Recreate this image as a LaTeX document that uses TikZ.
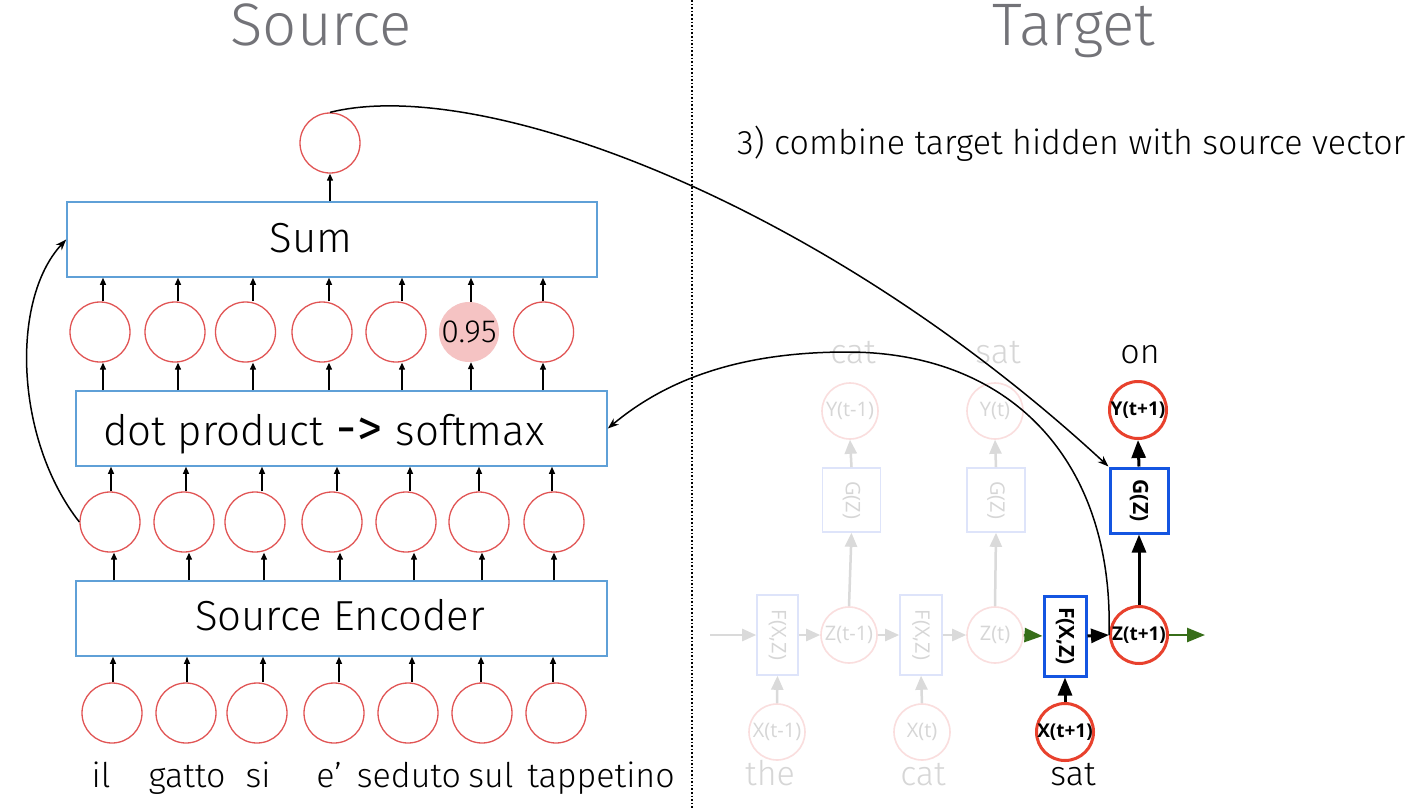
\documentclass[tikz,border=0pt]{standalone}
\usepackage{fontspec}
\setmainfont{Fira Sans Light}
\newfontfamily\regf{Fira Sans}
\newfontfamily\lblf{Open Sans}
\usetikzlibrary{arrows.meta}
\definecolor{boxblue}{RGB}{95,160,215}
\definecolor{circred}{RGB}{225,85,85}
\definecolor{pinkfill}{RGB}{245,195,195}
\definecolor{titlegrey}{RGB}{115,115,120}
\definecolor{bblue}{RGB}{20,85,225}
\definecolor{bred}{RGB}{232,65,45}
\definecolor{fgreen}{RGB}{55,110,25}
\definecolor{fadecirc}{RGB}{250,222,222}
\definecolor{fadebox}{RGB}{222,228,250}
\definecolor{fadetext}{RGB}{214,214,214}
\definecolor{fadearr}{RGB}{218,218,218}
\newcommand\myfs[1]{\fontsize{#1}{#1}\selectfont}
\begin{document}
\begin{tikzpicture}[x=1pt,y=-1pt,
  lbox/.style={draw=boxblue,line width=1.6pt,minimum width=531pt,minimum height=75pt,inner sep=0pt},
  lcirc/.style={circle,draw=circred,line width=1.3pt,minimum size=60pt,inner sep=0pt},
  thinarr/.style={-{Triangle[length=7pt,width=6pt]},line width=1.2pt},
  curvearr/.style={-{Stealth[length=11pt,width=8pt]},line width=1.5pt},
  bigtxt/.style={font=\myfs{42}},
  wordtxt/.style={font=\myfs{34},anchor=base,inner sep=0pt},
  titletxt/.style={font=\myfs{60},text=titlegrey,anchor=base,inner sep=0pt},
  fcirc/.style={circle,draw=fadecirc,line width=1.6pt,minimum size=56pt,inner sep=0pt},
  fbox/.style={draw=fadebox,line width=1.6pt,inner sep=0pt},
  flbl/.style={font=\lblf\myfs{20},text=fadetext,inner sep=0pt},
  farr/.style={draw=fadearr,line width=2.5pt,-{Triangle[length=14pt,width=12pt]}},
  bcirc/.style={circle,draw=bred,line width=3pt,minimum size=57pt,inner sep=0pt},
  bbox/.style={draw=bblue,line width=3pt,inner sep=0pt},
  blbl/.style={font=\lblf\bfseries\myfs{19},inner sep=0pt},
  rblbl/.style={font=\lblf\bfseries\myfs{21},inner sep=0pt,rotate=-90},
  barr/.style={line width=3pt,-{Triangle[length=18pt,width=14pt]}},
  garr/.style={draw=fgreen,line width=2.5pt,-{Triangle[length=18pt,width=14pt]}},
]
\useasboundingbox (0,0) rectangle (1416,809);
\fill[white] (0,0) rectangle (1416,809);

% divider
\coordinate (dtop) at (692,0);
\coordinate (dbot) at (692,809);
\draw[dotted,line width=1.6pt] (dtop) -- (dbot);

% titles
\node[titletxt] (tsrc) at (321,45) {Source};
\node[titletxt] (ttgt) at (1074,45) {Target};
\node[font=\myfs{34},anchor=base west,inner sep=0pt] (step3) at (737,154) {3) combine target hidden with source vector};

% ---------------- left column ----------------
\node[lcirc] (top) at (330,143) {};
\node[lbox,minimum width=530pt] (sum) at (332,239.5) {};
\node[bigtxt,anchor=base,inner sep=0pt] (sumtxt) at (311,252) {Sum};
\node[lbox] (dot) at (341.5,428.5) {};
\node[bigtxt,anchor=base west,inner sep=0pt] (dottxt) at (103,445) {dot product\hspace{13pt}{\regf\myfs{50}-\kern1pt>}\hspace{13pt}softmax};
\node[lbox] (enc) at (341.5,618.5) {};
\node[bigtxt,anchor=base,inner sep=0pt] (enctxt) at (340,630) {Source Encoder};

\draw[thinarr] (top.south |- sum.north) -- (top.south);

% attention row
\foreach \i/\cx/\ax in {1/100/103,2/175/178,3/245.5/253,4/322/329,5/396/402,6/469/471,7/543.6/543}{
  \ifnum\i=6
    \node[circle,fill=pinkfill,minimum size=60pt,inner sep=0pt] (a\i) at (\cx,332) {};
  \else
    \node[lcirc] (a\i) at (\cx,332) {};
  \fi
  \draw[thinarr] (\ax,0 |- a\i.north) -- (\ax,0 |- sum.south);
  \draw[thinarr] (\ax,0 |- dot.north) -- (\ax,0 |- a\i.south);
}
\node[font=\myfs{32},inner sep=0pt] (p95) at (a6) {0.95};

% encoder hidden row
\foreach \i/\cx/\ax/\bx in {1/110/111/114,2/184/186/189,3/255/262/264,4/332/337/340,5/406/410/414,6/479/479/482,7/554/552/554}{
  \node[lcirc] (e\i) at (\cx,522) {};
  \draw[thinarr] (\ax,0 |- e\i.north) -- (\ax,0 |- dot.south);
  \draw[thinarr] (\bx,0 |- enc.north) -- (\bx,0 |- e\i.south);
}

% input row
\foreach \i/\cx/\ax in {1/112/113,2/186/187,3/257/263,4/334/339,5/408/412,6/482/481,7/556/553}{
  \node[lcirc] (b\i) at (\cx,713) {};
  \draw[thinarr] (\ax,0 |- b\i.north) -- (\ax,0 |- enc.south);
}

% words
\node[wordtxt] (w1) at (101,787) {il};
\node[wordtxt] (w2) at (187,787) {gatto};
\node[wordtxt] (w3) at (258,787) {si};
\node[wordtxt] (w4) at (329,787) {e’};
\node[wordtxt] (w5) at (409,787) {seduto};
\node[wordtxt] (w6) at (491,787) {sul};
\node[wordtxt] (w7) at (601,787) {tappetino};

% left curve: encoder to sum
\draw[curvearr] (e1.west) .. controls (15,440) and (10,300) .. (sum.west);

% ---------------- right column: faded ----------------
\coordinate (fin) at (710,635);
\node[fbox,minimum width=41pt,minimum height=80pt] (f1) at (777.5,635) {};
\node[flbl,rotate=-90] at (f1) {F(X,Z)};
\node[fbox,minimum width=42pt,minimum height=80pt] (f2) at (921,635) {};
\node[flbl,rotate=-90] at (f2) {F(X,Z)};
\node[fcirc] (z1) at (849,635) {};
\node[flbl] at (z1) {Z(t-1)};
\node[fcirc] (z2) at (995,635) {};
\node[flbl] at (z2) {Z(t)};
\node[fbox,minimum width=58pt,minimum height=64pt] (g1) at (851.5,500) {};
\node[flbl,rotate=-90] at (g1) {G(Z)};
\node[fbox,minimum width=58pt,minimum height=64pt] (g2) at (996,500) {};
\node[flbl,rotate=-90] at (g2) {G(Z)};
\node[fcirc] (y1) at (850,411) {};
\node[flbl] at (y1) {Y(t-1)};
\node[fcirc] (y2) at (995,411) {};
\node[flbl] at (y2) {Y(t)};
\node[fcirc] (x1) at (777,732) {};
\node[flbl] at (x1) {X(t-1)};
\node[fcirc] (x2) at (922,732) {};
\node[flbl] at (x2) {X(t)};
\node[wordtxt,text=fadetext] (fw1) at (853,363) {cat};
\node[wordtxt,text=fadetext] (fw2) at (998,363) {sat};
\node[wordtxt,text=fadetext] (fw3) at (770,785) {the};
\node[wordtxt,text=fadetext] (fw4) at (923,785) {cat};

\draw[farr] (fin) -- (f1.west);
\draw[farr] (f1.east) -- (z1.west);
\draw[farr] (z1.east) -- (f2.west);
\draw[farr] (f2.east) -- (z2.west);
\draw[farr] (x1.north) -- (f1.south);
\draw[farr] (x2.north) -- (f2.south);
\draw[farr] (z1.north) -- (g1.south);
\draw[farr] (z2.north) -- (g2.south);
\draw[farr] (g1.north) -- (y1.south);
\draw[farr] (g2.north) -- (y2.south);

% ---------------- right column: active ----------------
\node[bbox,minimum width=42pt,minimum height=80pt] (f3) at (1065,636) {};
\node[rblbl] at (f3) {F(X,Z)};
\node[bcirc] (z3) at (1139,635) {};
\node[blbl] at (z3) {Z(t+1)};
\node[bbox,minimum width=58pt,minimum height=65pt] (g3) at (1139,500.5) {};
\node[rblbl] at (g3) {G(Z)};
\node[bcirc] (y3) at (1138,410) {};
\node[blbl] at (y3) {Y(t+1)};
\node[bcirc] (x3) at (1065,732) {};
\node[blbl] at (x3) {X(t+1)};
\node[wordtxt] (won) at (1140,363) {on};
\node[wordtxt] (wsat) at (1073,785) {sat};
\coordinate (gout) at (1205,635);

\draw[garr] (z2.east) -- (f3.west);
\draw[garr] (z3.east) -- (gout);
\draw[barr] (f3.east) -- (z3.west);
\draw[barr] (x3.north) -- (f3.south);
\draw[barr] (z3.north) -- (g3.south);
\draw[barr] (g3.north) -- (y3.south);

% long curves
\draw[curvearr] (top.north) .. controls (480,75) and (820,200) .. (g3.north west);
\draw[curvearr] (z3.west) .. controls (1114,460) and (1010,352) .. (847,352) .. controls (730,352) and (660,385) .. (dot.east);
\end{tikzpicture}
\end{document}
